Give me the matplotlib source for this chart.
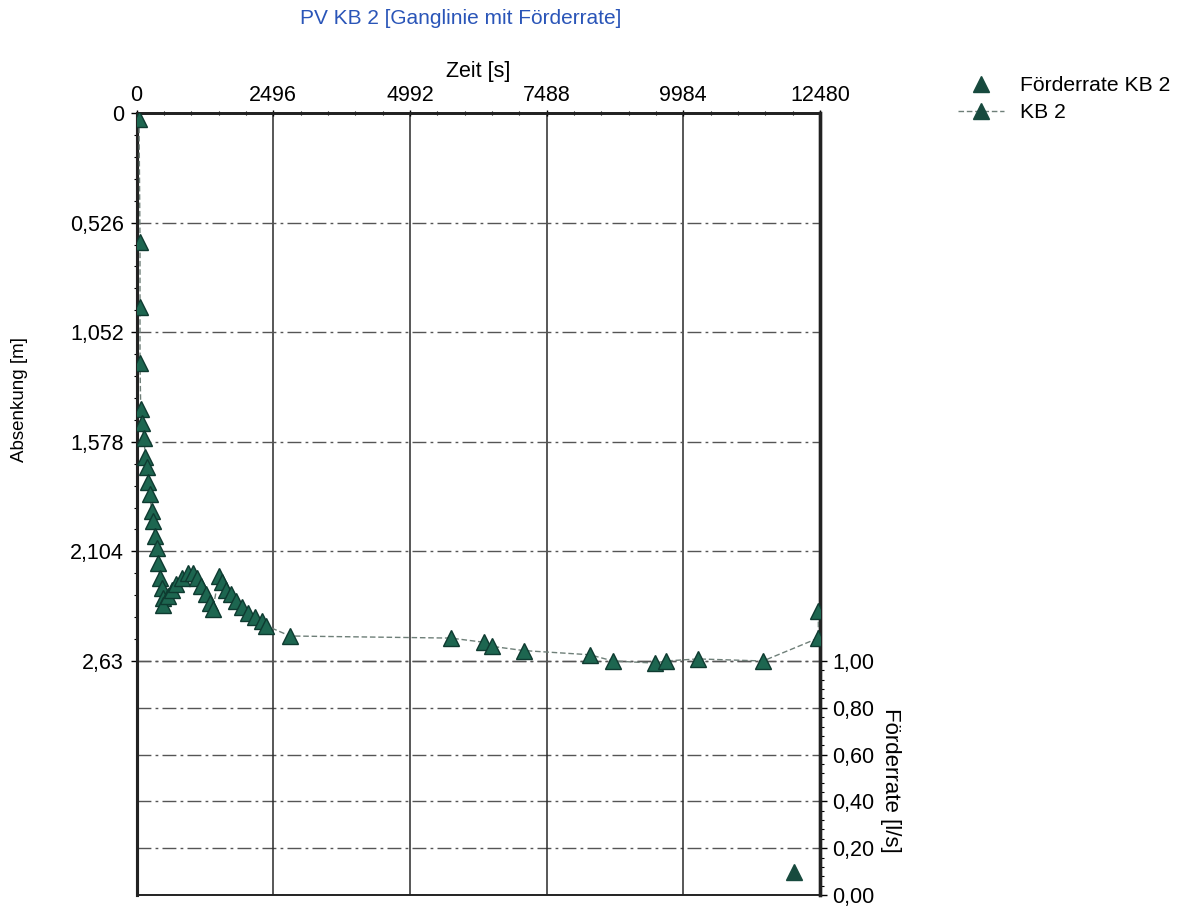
import matplotlib
matplotlib.use("Agg")
import matplotlib.pyplot as plt
from matplotlib.ticker import FixedLocator, AutoMinorLocator
from matplotlib.lines import Line2D

plt.rcParams['font.family'] = ['Liberation Sans', 'DejaVu Sans']

# ---- data ----
time_kb2 = [46, 64, 64, 64, 77, 100, 137, 161, 192, 210,
            246, 277, 301, 338, 369, 392, 429, 465, 489, 489,
            575, 648, 721, 830, 940, 1031, 1104, 1177, 1268, 1341,
            1396, 1506, 1560, 1633, 1725, 1816, 1925, 2035, 2163, 2290,
            2363, 2801, 5734, 6342, 6500, 7072, 8276, 8702, 9463, 9663,
            10253, 11439, 12450, 12450]
drawdown_kb2 = [0.03, 0.62, 0.93, 1.20, 1.42, 1.49, 1.56, 1.65, 1.70, 1.77,
                1.83, 1.91, 1.96, 2.03, 2.09, 2.16, 2.23, 2.28, 2.33, 2.36,
                2.32, 2.29, 2.26, 2.23, 2.21, 2.21, 2.23, 2.27, 2.31, 2.35,
                2.38, 2.22, 2.25, 2.29, 2.31, 2.34, 2.37, 2.40, 2.42, 2.44,
                2.46, 2.51, 2.52, 2.54, 2.56, 2.58, 2.60, 2.63, 2.64, 2.63,
                2.62, 2.63, 2.52, 2.39]
time_rate = [12000]
rate = [0.10]

x_ticks = [0, 2496, 4992, 7488, 9984, 12480]
left_ticks = [0, 0.526, 1.052, 1.578, 2.104, 2.63]
left_labels = ["0", "0,526", "1,052", "1,578", "2,104", "2,63"]
right_ticks = [0.0, 0.2, 0.4, 0.6, 0.8, 1.0]
right_labels = ["0,00", "0,20", "0,40", "0,60", "0,80", "1,00"]

title = "PV KB 2 [Ganglinie mit Förderrate]"
xlabel = "Zeit [s]"
ylabel_left = "Absenkung [m]"
ylabel_right = "Förderrate [l/s]"
legend_labels = ["Förderrate KB 2", "KB 2"]

# ---- layout ----
W, H = 1186, 910
fig = plt.figure(figsize=(W / 100, H / 100), dpi=100)
L, R, T, B = 136.5, 820, 113, 895
ax1 = fig.add_axes([L / W, 1 - B / H, (R - L) / W, (B - T) / H])
ax2 = ax1.twinx()
ax1.set_zorder(ax2.get_zorder() + 1)
ax1.patch.set_visible(False)

left_max = 2.63 * (B - T) / (661 - T)
right_max = 1.0 / (1 - 2.63 / left_max)

ax1.set_xlim(0, 12480)
ax1.set_ylim(left_max, 0)
ax2.set_ylim(0, right_max)

green = '#1d6650'
edge = '#0e3a30'
dark = '#174a3e'
FS = 15.5

ax1.plot(time_kb2, drawdown_kb2, linestyle=(0, (4, 2)), color='#6e7f78', lw=1.0,
         marker='^', ms=12, mfc=green, mec=edge, mew=1.0, clip_on=True, zorder=3)
ax2.plot(time_rate, rate, linestyle='none', marker='^', ms=12, mfc=dark, mec=dark, zorder=3)

# x axis on top
ax1.xaxis.tick_top()
ax1.xaxis.set_label_position('top')
ax1.set_xticks(x_ticks)
ax1.set_xticklabels([str(v) for v in x_ticks], fontsize=FS)
ax1.xaxis.set_minor_locator(AutoMinorLocator(5))
ax1.tick_params(axis='x', which='major', length=4, width=1, pad=3, direction='inout')
ax1.tick_params(axis='x', which='minor', length=3, width=0.8, direction='inout')
ax1.set_xlabel(xlabel, fontsize=FS, labelpad=6)

ax1.yaxis.set_major_locator(FixedLocator(left_ticks))
ax1.set_yticklabels(left_labels, fontsize=FS)
ax1.yaxis.set_minor_locator(FixedLocator([v * 0.1052 for v in range(0, 26)]))
ax1.tick_params(axis='y', which='major', length=4, width=1, pad=5)
ax1.tick_params(axis='y', which='minor', length=2, width=0.8)

ax2.yaxis.set_major_locator(FixedLocator(right_ticks))
ax2.set_yticklabels(right_labels, fontsize=FS)
ax2.yaxis.set_minor_locator(FixedLocator([v * 0.04 for v in range(0, 26)]))
ax2.tick_params(axis='y', which='major', length=5, width=1, pad=4)
ax2.tick_params(axis='y', which='minor', length=3, width=0.8)

# grid
ax1.grid(axis='x', which='major', color='#2a2a2a', lw=1.1, linestyle='-')
ax1.grid(axis='y', which='major', color='#555555', lw=1.0, linestyle=(0, (10, 3, 2, 3)))
ax2.grid(axis='y', which='major', color='#555555', lw=1.0, linestyle=(0, (10, 3, 2, 3)))
ax1.set_axisbelow(True)
ax2.set_axisbelow(True)

for a in (ax1, ax2):
    for s in a.spines.values():
        s.set_color('#222222')
    a.spines['left'].set_linewidth(2.2)
    a.spines['right'].set_linewidth(2.4)
    a.spines['top'].set_linewidth(2.0)
    a.spines['bottom'].set_linewidth(1.2)

# labels
fig.text(20 / W, 1 - 400 / H, ylabel_left, rotation=90, ha='center', va='center', fontsize=13.5)
fig.text(890 / W, 1 - 780 / H, ylabel_right, rotation=270, ha='center', va='center', fontsize=16)
fig.text(461 / W, 1 - 19 / H, title, ha='center', va='center', fontsize=15, color='#2a55b8')

# legend
h1 = Line2D([], [], linestyle='none', marker='^', ms=12, mfc=dark, mec=dark)
h2 = Line2D([], [], linestyle=(0, (4, 2)), color='#6e7f78', lw=1.0,
            marker='^', ms=12, mfc=dark, mec=dark)
fig.legend([h1, h2], legend_labels, loc='upper left',
           bbox_to_anchor=(958 / W, 1 - 76 / H), frameon=False, fontsize=15.2,
           handlelength=2.2, handletextpad=0.75, labelspacing=0.4, borderpad=0,
           borderaxespad=0)

fig.savefig('out.png', dpi=100)
